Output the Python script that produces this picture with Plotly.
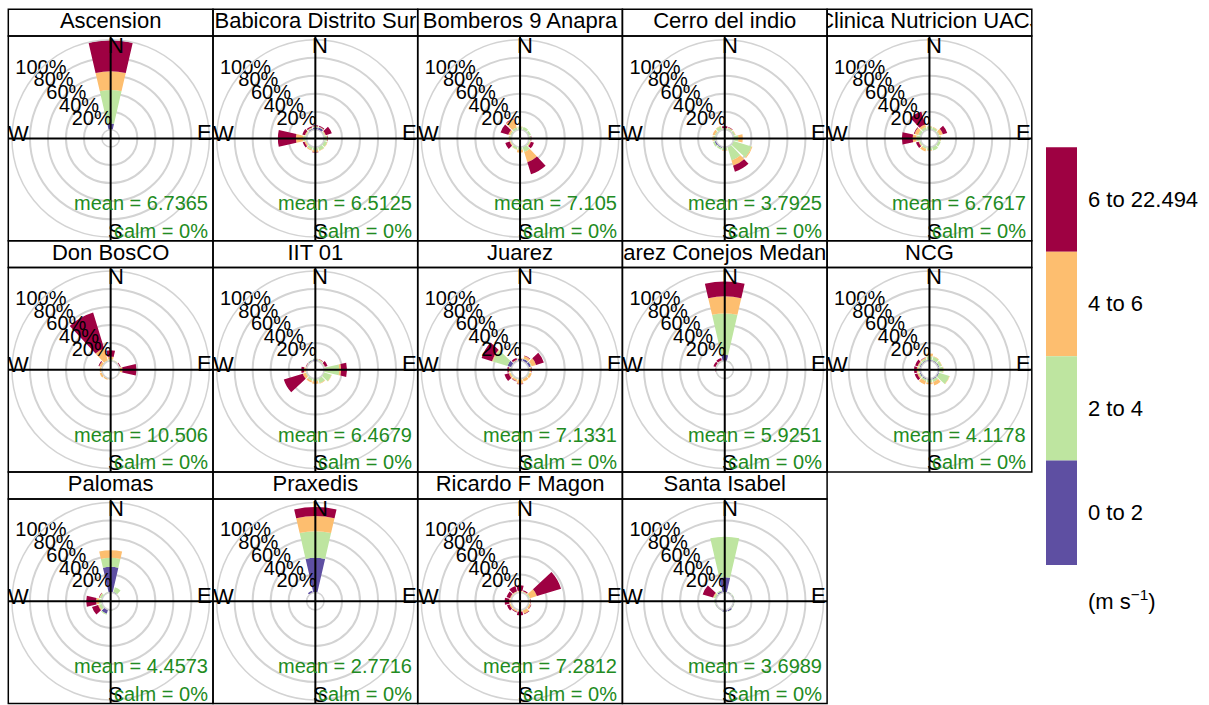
import plotly.graph_objects as go

# ---------------- data ----------------
sites = ["Ascension", "Babicora Distrito Sur", "Bomberos 9 Anapra", "Cerro del indio",
         "Clinica Nutricion UACJ", "Don BosCO", "IIT 01", "Juarez",
         "Juarez Conejos Medanos", "NCG", "Palomas", "Praxedis",
         "Ricardo F Magon", "Santa Isabel"]
means = ["6.7365", "6.5125", "7.105", "3.7925", "6.7617", "10.506", "6.4679",
         "7.1331", "5.9251", "4.1178", "4.4573", "2.7716", "7.2812", "3.6989"]
calms = ["0%"] * 14
directions = [0, 30, 60, 90, 120, 150, 180, 210, 240, 270, 300, 330]
speed_labels = ["0 to 2", "2 to 4", "4 to 6", "6 to 22.494"]
grid_pct = [20, 40, 60, 80, 100]
grid_labels = ["20%", "40%", "60%", "80%", "100%"]

# frequency (%) per direction, one list per site, for each speed class
freq_0_2 = [
    [7, 0, 0, 0, 0, 0, 0, 0, 0, 0, 0, 0],
    [2.5, 3, 0.5, 0.5, 0.5, 0.5, 0.5, 0.5, 0.5, 1, 0.5, 1.5],
    [0, 0, 0, 0, 0, 0.5, 0, 0, 0, 0, 0, 0],
    [0.5, 0.5, 0.5, 0.5, 0.5, 0.5, 0.5, 1.5, 2, 0.5, 0.5, 0.5],
    [0.5, 0.5, 0.5, 0.5, 0.5, 0.5, 0.5, 0.5, 0.5, 0.5, 0.5, 0.5],
    [0, 0, 0, 0, 0, 0, 0, 0, 0, 0, 0, 0],
    [2, 0.5, 0, 0, 0, 0, 0, 0, 0, 0, 0, 1.5],
    [2.5, 3, 3, 0.5, 0.5, 0.5, 0.5, 0.5, 0.5, 1, 5, 1],
    [7, 0.5, 0.2, 0.2, 0.2, 0.2, 0.2, 0.2, 0.2, 0.2, 0, 0.5],
    [1.5, 1.5, 1.5, 1.5, 1.5, 1.5, 1.5, 1.5, 1.5, 1.5, 1.5, 1.5],
    [28.5, 1, 0.5, 0.3, 0.3, 0.3, 0.5, 5, 0.5, 0.5, 0.5, 0.5],
    [38.5, 0.2, 0.2, 0.2, 0.2, 0.2, 0.2, 0.2, 0.2, 0.3, 0.5, 2.5],
    [0, 0, 0, 0, 0, 0, 0, 0, 0, 0, 0, 0],
    [17, 1, 1, 1, 1, 2, 2, 1, 1, 1, 1, 2],
]
freq_2_4 = [
    [37, 0, 0, 0, 0, 0, 0, 0, 0, 0, 0, 0],
    [1, 0.5, 1, 3, 3.5, 4, 3, 3, 1, 3, 1, 1],
    [3, 3.5, 3, 2.5, 2, 5.5, 3, 3, 1.5, 2.5, 2, 3],
    [1, 2, 2, 5, 21, 15.5, 3, 2, 2, 2.5, 1.5, 4],
    [3, 2.5, 1.5, 2.5, 3, 4, 3, 2, 1.5, 4.5, 3, 3],
    [2, 1, 0.5, 0.5, 0.5, 0.3, 0.5, 0.5, 0.5, 0.5, 0.5, 1],
    [1, 1.5, 1, 17, 9, 6, 3, 3, 1.5, 1, 0.5, 0.5],
    [0.5, 0.5, 1, 0.5, 1, 0.5, 1, 1, 1, 1, 17, 0.5],
    [46, 0.5, 0.2, 0.2, 0.2, 0.2, 0.2, 0.2, 0.2, 0.2, 0.5, 0.5],
    [4, 4, 3, 4, 12, 3, 3, 2, 1.5, 1.5, 1.5, 2],
    [10, 5.5, 0.5, 0.2, 0.2, 0.2, 0.5, 1, 3.5, 3, 2.5, 0.5],
    [29.5, 0, 0, 0, 0, 0, 0, 0, 0, 0, 0, 0],
    [1, 1, 2, 1, 1, 1, 1, 1, 1, 1, 1, 1],
    [45, 0.5, 0.5, 0.5, 0.5, 0.5, 0.5, 0.5, 0.5, 1, 2, 1],
]
freq_4_6 = [
    [21, 0, 0, 0, 0, 0, 0, 0, 0, 0, 0, 0],
    [0.5, 0.5, 1, 0.5, 0.5, 0.5, 2, 1, 1.5, 8, 1, 0.5],
    [0.5, 0, 0, 0, 1, 12, 3, 0.5, 1, 0.5, 2, 10],
    [0.5, 0.5, 0.5, 5, 1, 6, 0.5, 0, 0, 1, 2.5, 0.5],
    [0.5, 0.5, 4, 0.5, 0, 0, 0.5, 3, 1, 4, 4, 3],
    [3, 0.5, 0.5, 3, 0.5, 0.2, 0.5, 1.5, 2.5, 2, 3, 14],
    [0, 0.5, 0.5, 2, 0.5, 0.5, 3, 2, 3.5, 2, 0.5, 0],
    [0.5, 3, 5, 2, 2.5, 3, 4.5, 2, 2, 1, 1, 0.5],
    [19, 0, 0, 0, 0, 0, 0, 0, 0, 0, 0.5, 0.5],
    [3, 0.5, 0.5, 0.5, 0.5, 4, 2, 4, 1.5, 1.5, 1, 1],
    [8.5, 0, 0, 0, 0, 0, 0, 0, 1, 3, 0.5, 0],
    [17, 0, 0, 0, 0, 0, 0, 0, 0, 0, 0, 0],
    [1, 1, 8, 1, 2, 4, 1, 1.5, 1.5, 1.5, 1, 1],
    [0, 0, 0, 0, 0, 0, 0, 0, 0, 0, 1, 0],
]
freq_6_22 = [
    [34.5, 0, 0, 0, 0, 0, 0, 0, 0, 0, 0, 0],
    [1, 1, 7, 0.5, 0, 0, 0.5, 0, 2, 20, 3, 1.5],
    [0, 0, 0, 0.5, 3.5, 14, 0, 0, 5, 0, 9, 0.5],
    [2, 0.5, 0, 0, 0, 7, 0, 0, 0, 0, 0, 0],
    [0, 0, 5, 0, 0, 0, 0, 0, 3, 12, 1, 15],
    [7, 0, 1, 15.5, 0, 0, 0, 0, 0, 0, 1, 42],
    [0, 0.5, 3, 6.5, 0, 0, 0, 0, 22, 3, 0.5, 0],
    [0, 0.5, 9, 0.5, 0, 0, 0.5, 0.5, 5, 1.5, 12, 2],
    [16.5, 0, 0, 0, 0, 0, 0, 0, 0, 0.5, 2.5, 2.5],
    [0, 0, 0, 0, 0, 0, 0, 0, 3, 3, 3, 0.5],
    [0, 0, 0, 0, 0, 0, 0, 0, 7, 11, 0.5, 0],
    [10, 0, 0, 0, 0, 0, 0, 0, 0, 0, 0, 0],
    [6, 1, 28, 0.5, 0.5, 0.5, 4, 1, 3, 5, 4, 6],
    [0, 0, 0, 0, 0, 0, 0, 0, 0, 0, 12, 0],
]
classes = [freq_0_2, freq_2_4, freq_4_6, freq_6_22]
colors = ["#5E4FA2", "#BEE5A0", "#FDBE6F", "#9E0142"]

# ---------------- layout geometry (pixels) ----------------
W, H = 1209, 705
X0, Y0 = 8.3, 9.3
PW, RH, SH = 204.7, 231.4, 26.8
R, HOLE = 98.7, 8.7
FONT = "Liberation Sans, Arial, sans-serif"
GRID = "#D3D3D3"
GREEN = "#228B22"


def fx(x):
    return x / W


def fy(y):
    return 1 - y / H


fig = go.Figure()
lay = {}
shapes = []
annotations = []

for k, site in enumerate(sites):
    row, col = divmod(k, 5)
    xl = X0 + col * PW
    xr = xl + PW
    yt = Y0 + row * RH
    ys = yt + SH
    yb = yt + RH
    xc = (xl + xr) / 2
    yc = (ys + yb) / 2
    pname = "polar" if k == 0 else f"polar{k + 1}"
    lay[pname] = dict(
        domain=dict(x=[fx(xc - R), fx(xc + R)], y=[fy(yc + R), fy(yc - R)]),
        hole=HOLE / R, bgcolor="rgba(0,0,0,0)", barmode="stack", bargap=0,
        radialaxis=dict(range=[0, 100], tickvals=[0] + grid_pct, showticklabels=False,
                        ticks="", showline=False, gridcolor=GRID, gridwidth=1.5),
        angularaxis=dict(rotation=90, direction="clockwise", showgrid=False,
                         showticklabels=False, ticks="", showline=True,
                         linecolor=GRID, linewidth=1.5),
    )
    for c in range(4):
        fig.add_trace(go.Barpolar(
            r=classes[c][k], theta=directions, width=26, name=speed_labels[c],
            marker=dict(color=colors[c], line=dict(width=0)),
            subplot=pname, showlegend=False, hoverinfo="skip"))
    fig.add_trace(go.Scatterpolar(
        r=grid_pct, theta=[315] * len(grid_pct), mode="text", text=grid_labels,
        textposition="middle center", textfont=dict(size=20, color="black", family=FONT),
        subplot=pname, showlegend=False, cliponaxis=False, hoverinfo="skip"))

    # title strip as a small cartesian subplot (text clipped to strip)
    ax = "" if k == 0 else str(k + 1)
    lay[f"xaxis{ax}"] = dict(domain=[fx(xl), fx(xr)], range=[0, 1], visible=False,
                             anchor=f"y{ax}", fixedrange=True)
    lay[f"yaxis{ax}"] = dict(domain=[fy(ys), fy(yt)], range=[0, 1], visible=False,
                             anchor=f"x{ax}", fixedrange=True)
    fig.add_trace(go.Scatter(
        x=[0.5], y=[0.5], mode="text", text=[site], textposition="middle center",
        textfont=dict(size=22, color="black", family=FONT), cliponaxis=True,
        xaxis=f"x{ax}", yaxis=f"y{ax}", showlegend=False, hoverinfo="skip"))

    # frames
    for (a, b, c2, d) in [(xl, yt, xr, ys), (xl, ys, xr, yb)]:
        shapes.append(dict(type="rect", xref="paper", yref="paper",
                           x0=fx(a), y0=fy(d), x1=fx(c2), y1=fy(b),
                           line=dict(color="black", width=1.5), layer="above"))
    # compass axis lines
    shapes.append(dict(type="line", xref="paper", yref="paper", x0=fx(xc), x1=fx(xc),
                       y0=fy(ys), y1=fy(yb), line=dict(color="black", width=2), layer="above"))
    shapes.append(dict(type="line", xref="paper", yref="paper", x0=fx(xl), x1=fx(xr),
                       y0=fy(yc), y1=fy(yc), line=dict(color="black", width=2), layer="above"))
    # compass letters
    for lab, dx, dy in [("N", 5, -93), ("E", 94, -6), ("S", 5, 93), ("W", -92, -5)]:
        annotations.append(dict(text=lab, x=fx(xc + dx), y=fy(yc + dy), xref="paper",
                                yref="paper", showarrow=False, xanchor="center",
                                yanchor="middle", font=dict(size=22, color="black", family=FONT)))
    # mean / calm
    annotations.append(dict(text=f"mean = {means[k]}", x=fx(xr - 3.5), y=fy(yc + 65),
                            xref="paper", yref="paper", showarrow=False, xanchor="right",
                            yanchor="middle", font=dict(size=20, color=GREEN, family=FONT)))
    annotations.append(dict(text=f"calm = {calms[k]}", x=fx(xr - 3.5), y=fy(yc + 92.5),
                            xref="paper", yref="paper", showarrow=False, xanchor="right",
                            yanchor="middle", font=dict(size=20, color=GREEN, family=FONT)))

# ---------------- colour key ----------------
KX0, KX1 = 1046, 1077
KY0, KY1 = 147.3, 565
kh = (KY1 - KY0) / 4
for i in range(4):
    c = 3 - i
    y0 = KY0 + i * kh
    shapes.append(dict(type="rect", xref="paper", yref="paper", x0=fx(KX0), x1=fx(KX1),
                       y0=fy(y0 + kh), y1=fy(y0), fillcolor=colors[c],
                       line=dict(width=0), layer="above"))
    annotations.append(dict(text=speed_labels[c], x=fx(1086), y=fy(y0 + kh / 2),
                            xref="paper", yref="paper", showarrow=False, xanchor="left",
                            yanchor="middle", font=dict(size=22, color="black", family=FONT)))
annotations.append(dict(text="(m s<sup>\u22121</sup>)", x=fx(1086), y=fy(600),
                        xref="paper", yref="paper", showarrow=False, xanchor="left",
                        yanchor="middle", font=dict(size=22, color="black", family=FONT)))

fig.update_layout(width=W, height=H, margin=dict(l=0, r=0, t=0, b=0),
                  paper_bgcolor="white", plot_bgcolor="rgba(0,0,0,0)",
                  showlegend=False, shapes=shapes, annotations=annotations, **lay)
fig.write_html("out.html")
